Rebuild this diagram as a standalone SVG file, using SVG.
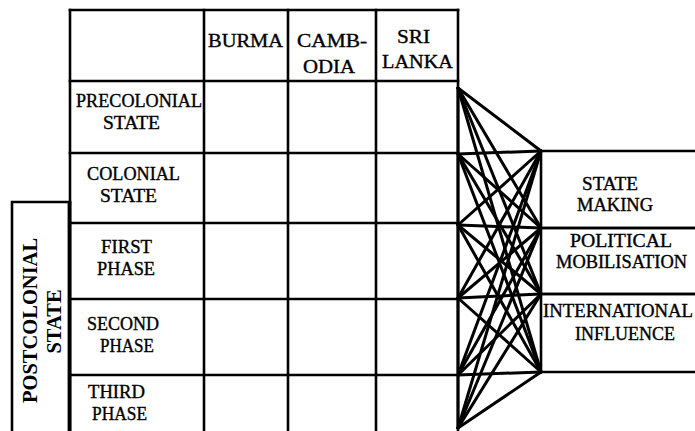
<svg xmlns="http://www.w3.org/2000/svg" width="695" height="431" viewBox="0 0 695 431">
<style>
.g{stroke:#000;stroke-width:2.6;fill:none;stroke-linecap:square}
.c{stroke:#000;stroke-width:3;fill:none;stroke-linecap:round}
.t{font-family:"Liberation Serif","Times New Roman",serif;font-size:18px;fill:#000;stroke:#000;stroke-width:0.35}
.b{font-family:"Liberation Serif","Times New Roman",serif;font-size:20.5px;font-weight:bold;fill:#000}
</style>
<rect width="695" height="431" fill="#fff"/>
<g id="table" class="g">
<line x1="70" y1="10" x2="458" y2="10"/>
<line x1="70" y1="10" x2="70" y2="431"/>
<line x1="204" y1="10" x2="204" y2="431"/>
<line x1="288" y1="10" x2="288" y2="431"/>
<line x1="376" y1="10" x2="376" y2="431"/>
<line x1="458" y1="10" x2="458" y2="431"/>
<line x1="70" y1="81" x2="458" y2="81"/>
<line x1="70" y1="153" x2="458" y2="153"/>
<line x1="70" y1="223" x2="458" y2="223"/>
<line x1="70" y1="299" x2="458" y2="299"/>
<line x1="70" y1="375" x2="458" y2="375"/>
</g>
<g id="col-burma"><text class="t" x="208" y="47" textLength="75" lengthAdjust="spacingAndGlyphs">BURMA</text></g>
<g id="col-cambodia"><text class="t" x="297" y="47" textLength="70" lengthAdjust="spacingAndGlyphs">CAMB-</text><text class="t" x="303" y="73" textLength="52" lengthAdjust="spacingAndGlyphs">ODIA</text></g>
<g id="col-srilanka"><text class="t" x="397" y="43" textLength="33" lengthAdjust="spacingAndGlyphs">SRI</text><text class="t" x="382" y="68" textLength="71" lengthAdjust="spacingAndGlyphs">LANKA</text></g>
<g id="row-precolonial"><text class="t" x="76" y="107" textLength="126" lengthAdjust="spacingAndGlyphs">PRECOLONIAL</text><text class="t" x="103" y="129" textLength="57" lengthAdjust="spacingAndGlyphs">STATE</text></g>
<g id="row-colonial"><text class="t" x="87" y="180" textLength="93" lengthAdjust="spacingAndGlyphs">COLONIAL</text><text class="t" x="100" y="202" textLength="57" lengthAdjust="spacingAndGlyphs">STATE</text></g>
<g id="row-first"><text class="t" x="101" y="253" textLength="51" lengthAdjust="spacingAndGlyphs">FIRST</text><text class="t" x="97" y="275" textLength="58" lengthAdjust="spacingAndGlyphs">PHASE</text></g>
<g id="row-second"><text class="t" x="87" y="330" textLength="72" lengthAdjust="spacingAndGlyphs">SECOND</text><text class="t" x="100" y="352" textLength="54" lengthAdjust="spacingAndGlyphs">PHASE</text></g>
<g id="row-third"><text class="t" x="88" y="398" textLength="57" lengthAdjust="spacingAndGlyphs">THIRD</text><text class="t" x="92" y="420" textLength="55" lengthAdjust="spacingAndGlyphs">PHASE</text></g>
<g id="postcolonial">
<path class="g" d="M12,431 V202 H70"/>
<line x1="69.5" y1="202" x2="69.5" y2="431" stroke="#000" stroke-width="3.8"/>
<text class="b" transform="translate(37,320.5) rotate(-90)" text-anchor="middle">POSTCOLONIAL</text>
<text class="b" transform="translate(61,321.5) rotate(-90)" text-anchor="middle">STATE</text>
</g>
<g id="box-statemaking">
<path class="g" d="M697,151 H541 V228 H697"/>
<text class="t" x="582" y="190" textLength="56" lengthAdjust="spacingAndGlyphs">STATE</text>
<text class="t" x="577" y="211" textLength="76" lengthAdjust="spacingAndGlyphs">MAKING</text>
</g>
<g id="box-mobilisation">
<path class="g" d="M697,228 H541 V294 H697"/>
<text class="t" x="570" y="247" textLength="102" lengthAdjust="spacingAndGlyphs">POLITICAL</text>
<text class="t" x="556" y="268" textLength="131" lengthAdjust="spacingAndGlyphs">MOBILISATION</text>
</g>
<g id="box-international">
<path class="g" d="M697,294 H541 V372 H697"/>
<text class="t" x="543" y="317" textLength="150" lengthAdjust="spacingAndGlyphs">INTERNATIONAL</text>
<text class="t" x="575" y="340" textLength="100" lengthAdjust="spacingAndGlyphs">INFLUENCE</text>
</g>
<g id="connectors" class="c">
<line x1="458" y1="88" x2="541" y2="151"/><line x1="458" y1="88" x2="541" y2="228"/><line x1="458" y1="88" x2="541" y2="294"/><line x1="458" y1="88" x2="541" y2="372"/>
<line x1="458" y1="154" x2="541" y2="151"/><line x1="458" y1="154" x2="541" y2="228"/><line x1="458" y1="154" x2="541" y2="294"/><line x1="458" y1="154" x2="541" y2="372"/>
<line x1="458" y1="225" x2="541" y2="151"/><line x1="458" y1="225" x2="541" y2="228"/><line x1="458" y1="225" x2="541" y2="294"/><line x1="458" y1="225" x2="541" y2="372"/>
<line x1="458" y1="298" x2="541" y2="151"/><line x1="458" y1="298" x2="541" y2="228"/><line x1="458" y1="298" x2="541" y2="294"/><line x1="458" y1="298" x2="541" y2="372"/>
<line x1="458" y1="375" x2="541" y2="151"/><line x1="458" y1="375" x2="541" y2="228"/><line x1="458" y1="375" x2="541" y2="294"/><line x1="458" y1="375" x2="541" y2="372"/>
<line x1="458" y1="428" x2="541" y2="151"/><line x1="458" y1="428" x2="541" y2="228"/><line x1="458" y1="428" x2="541" y2="294"/><line x1="458" y1="428" x2="541" y2="372"/>
<line x1="458" y1="88" x2="458" y2="428"/>
</g>
</svg>
